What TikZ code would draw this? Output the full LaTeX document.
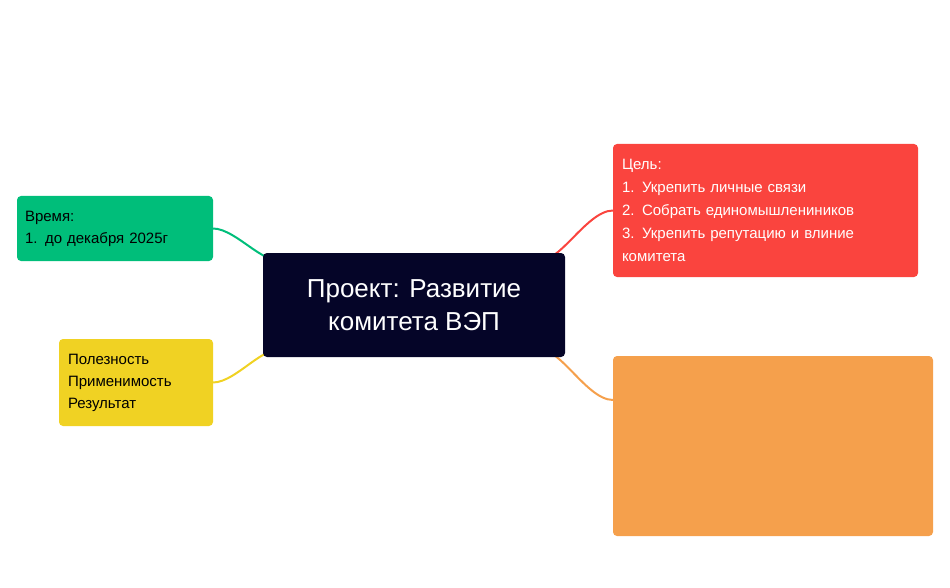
\documentclass[tikz,border=0pt]{standalone}
\usepackage{fontspec}
\setmainfont{Liberation Sans}
\usetikzlibrary{positioning,backgrounds}
\definecolor{navy@VEP}{RGB}{5, 5, 40}
\definecolor{green@VEP}{RGB}{0, 190, 122}
\definecolor{yellow@VEP}{RGB}{240, 210, 35}
\definecolor{red@VEP}{RGB}{250, 68, 62}
\definecolor{orange@VEP}{RGB}{245, 160, 76}

\begin{document}
\begin{tikzpicture}[x=1pt, y=-1pt]
  \tikzstyle{topic}=[rounded corners=4pt, inner sep=0pt, outer sep=0pt]
  \tikzstyle{branch} = [draw, line width=2pt, line cap=round]

  \useasboundingbox (0,0) rectangle (950,588);

  % central topic
  \node[topic, fill=navy@VEP, minimum width=302pt, minimum height=104pt,
        text=white, font=\fontsize{26}{33}\selectfont, align=center]
        (proj) at (414,305) {Проект: Развитие\\комитета ВЭП};

  % subtopics
  \node[topic, fill=green@VEP, minimum width=196pt, minimum height=65pt,
        font=\fontsize{15}{22}\selectfont, align=left, text width=180pt]
        (time) at (115,228.5) {Время:\\1. до декабря 2025г};
  \node[topic, fill=yellow@VEP, minimum width=154pt, minimum height=87pt,
        font=\fontsize{15}{22}\selectfont, align=left, text width=136pt]
        (use) at (136,382.5) {Полезность\\Применимость\\Результат};
  \node[topic, fill=red@VEP, minimum width=305pt, minimum height=133pt,
        text=white, font=\fontsize{15}{23}\selectfont, align=left, text width=287pt]
        (goal) at (765.5,210.5) {Цель:\\1. Укрепить личные связи\\2. Собрать единомышлениников\\3. Укрепить репутацию и влиние\\комитета};
  \node[topic, fill=orange@VEP, minimum width=320pt, minimum height=180pt]
        (todo) at (773,446) {};

  % branch ends
  \coordinate (gEnd) at (287,256);
  \coordinate (yEnd) at (287,354);
  \coordinate (rEnd) at (533,256);
  \coordinate (oEnd) at (533,354);
  \coordinate (oStart) at (613,400);

  % connect subtopics to the central topic
  \begin{pgfonlayer}{background}
    \path[branch, green@VEP] (time.east) to[out=0, in=-135, looseness=0.8] (gEnd);
    \path[branch, yellow@VEP] (use.east) to[out=0, in=135, looseness=0.8] (yEnd);
    \path[branch, red@VEP] (goal.west) to[out=180, in=-45, looseness=0.8] (rEnd);
    \path[branch, orange@VEP] (oStart) to[out=180, in=45, looseness=0.8] (oEnd);
  \end{pgfonlayer}
\end{tikzpicture}
\end{document}
